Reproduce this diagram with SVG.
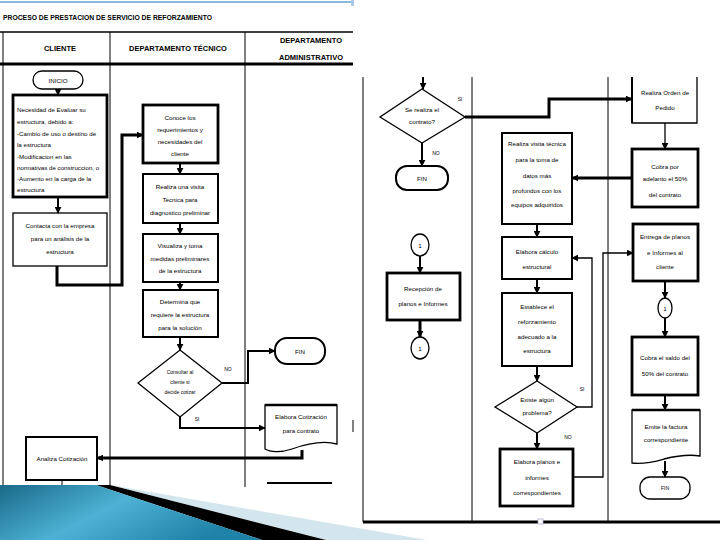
<svg xmlns="http://www.w3.org/2000/svg" width="720" height="540" viewBox="0 0 720 540">
<defs>
<marker id="ah" viewBox="0 0 10 10" refX="9" refY="5" markerWidth="7" markerHeight="7" markerUnits="userSpaceOnUse" orient="auto"><path d="M0,0 L10,5 L0,10 z" fill="#000"/></marker>
<linearGradient id="bl" x1="0" y1="0" x2="1" y2="0.4"><stop offset="0" stop-color="#1a6a88"/><stop offset="0.5" stop-color="#4db2d5"/><stop offset="1" stop-color="#1f82a8"/></linearGradient>
<style>
.t{font-family:"Liberation Sans",Arial,sans-serif;font-size:6.2px;fill:#000;text-anchor:middle}
.h{font-family:"Liberation Sans",Arial,sans-serif;font-size:7.5px;font-weight:bold;fill:#000;text-anchor:middle}
.l{text-anchor:start}
.s{font-size:5px}
.b{fill:#fff;stroke:#000;stroke-width:2}
.bt{fill:#fff;stroke:#000;stroke-width:2.8}
.bn{fill:#fff;stroke:#000;stroke-width:1.3}
.c{fill:none;stroke:#000;stroke-width:2}
.ct{fill:none;stroke:#000;stroke-width:3}
.cn{fill:none;stroke:#000;stroke-width:1.3}
.g{fill:none;stroke:#000;stroke-width:1}
</style>
</defs>
<rect width="720" height="540" fill="#fff"/>

<g id="frame-left">
<line x1="0" y1="2" x2="353" y2="2" stroke="#8db8dc" stroke-width="2"/>
<rect x="351" y="0" width="3" height="6" fill="#a9c9e6"/>
<text class="h l" x="3" y="20" textLength="209" lengthAdjust="spacingAndGlyphs">PROCESO DE PRESTACION DE SERVICIO DE REFORZAMIENTO</text>
<line x1="0" y1="32" x2="353" y2="32" stroke="#000" stroke-width="1.5"/>
<line x1="0" y1="64" x2="353" y2="64" stroke="#000" stroke-width="3"/>
<line x1="3" y1="32" x2="3" y2="487" class="g"/>
<line x1="110" y1="32" x2="110" y2="487" class="g"/>
<line x1="245" y1="32" x2="245" y2="487" class="g"/>
<text class="h" x="60" y="51">CLIENTE</text>
<text class="h" x="178" y="51">DEPARTAMENTO TÉCNICO</text>
<text class="h" x="311" y="43">DEPARTAMENTO</text>
<text class="h" x="311" y="60">ADMINISTRATIVO</text>
<line x1="353" y1="420" x2="353" y2="432" stroke="#000" stroke-width="1"/>
</g>

<g id="inicio"><rect x="33" y="71" width="50" height="18" rx="9" class="bn"/><text class="t" x="58" y="82.5">INICIO</text></g>
<g id="necesidad"><rect x="13" y="95" width="94" height="102" class="bt"/>
<text class="t l" x="17" y="112">Necesidad de Evaluar su</text>
<text class="t l" x="17" y="124">estructura, debido  a:</text>
<text class="t l" x="17" y="136">-Cambio de uso o destino de</text>
<text class="t l" x="17" y="147">la estructura</text>
<text class="t l" x="17" y="159">-Modificacion en las</text>
<text class="t l" x="17" y="170">normativas de construccion, o</text>
<text class="t l" x="17" y="181">-Aumento en la carga de la</text>
<text class="t l" x="17" y="192">estructura</text></g>
<g id="contacta"><rect x="13" y="213" width="94" height="53" class="bn"/>
<text class="t" x="60" y="228">Contacta con  la empresa</text>
<text class="t" x="60" y="241">para un análisis de la</text>
<text class="t" x="60" y="254">estructura</text></g>
<g id="conoce"><rect x="143" y="105" width="75" height="58" class="bt"/>
<text class="t" x="180" y="120">Conoce los</text>
<text class="t" x="180" y="132">requerimientos y</text>
<text class="t" x="180" y="144">necesidades del</text>
<text class="t" x="180" y="156">cliente</text></g>
<g id="realiza"><rect x="143" y="174" width="75" height="49" class="b"/>
<text class="t" x="180" y="189">Realiza una visita</text>
<text class="t" x="180" y="202">Tecnica para</text>
<text class="t" x="180" y="215">diagnostico preliminar</text></g>
<g id="visualiza"><rect x="143" y="234" width="75" height="48" class="b"/>
<text class="t" x="180" y="248">Visualiza y toma</text>
<text class="t" x="180" y="261">medidas preliminares</text>
<text class="t" x="180" y="273">de la estructura</text></g>
<g id="determina"><rect x="143" y="290" width="75" height="47" class="b"/>
<text class="t" x="180" y="304">Determina que</text>
<text class="t" x="180" y="317">requiere la estructura</text>
<text class="t" x="180" y="330">para la solución</text></g>
<g id="consultar"><polygon points="180,350 222,383 180,417 138,383" class="bn"/>
<text class="t s" x="180" y="374">Consultar al</text>
<text class="t s" x="180" y="384">cliente si</text>
<text class="t s" x="180" y="394">decide cotizar</text></g>
<g id="fin1"><rect x="275" y="338" width="50" height="26" rx="12" class="b"/><text class="t" x="300" y="353.5">FIN</text></g>
<g id="cotizacion"><path d="M265,405 H337 V444 C322,440 306,444 292,449 C280,453 270,452 265,449 Z" class="bn"/><line x1="265" y1="405" x2="337" y2="405" stroke="#000" stroke-width="2.5"/>
<text class="t" x="301" y="419">Elabora Cotización</text>
<text class="t" x="301" y="433">para contrato</text></g>
<g id="analiza"><rect x="26" y="437" width="71" height="43" class="b"/><text class="t" x="62" y="461">Analiza Cotización</text></g>

<g id="frame-right">
<line x1="363" y1="77" x2="363" y2="522" class="g"/>
<line x1="472" y1="77" x2="472" y2="522" class="g"/>
<line x1="608" y1="77" x2="608" y2="522" class="g"/>
<line x1="363" y1="522" x2="720" y2="522" stroke="#000" stroke-width="3"/>
<rect x="538" y="519" width="5" height="5" fill="#fff" stroke="#aac" stroke-width="0.8"/>
</g>

<g id="se-realiza"><polygon points="422,89 465,117 422,143 380,117" class="bn"/>
<text class="t" x="422" y="112">Se realiza el</text>
<text class="t" x="422" y="124">contrato?</text></g>
<g id="fin2"><rect x="396" y="166" width="52" height="24" rx="11" class="b"/><text class="t" x="422" y="180.5">FIN</text></g>
<g id="c1a"><ellipse cx="420" cy="245" rx="9" ry="11" class="bn"/><text class="t" x="420" y="248" font-size="9">1</text></g>
<g id="recepcion"><rect x="387" y="273" width="73" height="47" class="bt"/>
<text class="t" x="423" y="291">Recepción de</text>
<text class="t" x="423" y="306">planos e Informes</text></g>
<g id="c1b"><ellipse cx="420" cy="348" rx="9" ry="11" class="bn"/><text class="t" x="420" y="351" font-size="9">1</text></g>
<g id="visita"><rect x="502" y="133" width="70" height="91" class="b"/>
<text class="t" x="537" y="146">Realiza visita técnica</text>
<text class="t" x="537" y="162">para la toma de</text>
<text class="t" x="537" y="178">datos más</text>
<text class="t" x="537" y="193">profundos con los</text>
<text class="t" x="537" y="207">equipos adquiridos</text></g>
<g id="calculo"><rect x="502" y="237" width="70" height="42" class="b"/>
<text class="t" x="537" y="254">Elabora cálculo</text>
<text class="t" x="537" y="269">estructural</text></g>
<g id="establece"><rect x="502" y="293" width="70" height="73" class="b"/>
<text class="t" x="537" y="309">Establece el</text>
<text class="t" x="537" y="324">reforzamiento</text>
<text class="t" x="537" y="339">adecuado a la</text>
<text class="t" x="537" y="353">estructura</text></g>
<g id="problema"><polygon points="537,381 577,407 537,433 495,407" class="bn"/>
<text class="t" x="537" y="402">Existe algún</text>
<text class="t" x="537" y="415">problema?</text></g>
<g id="planos"><rect x="500" y="449" width="73" height="57" class="bt"/>
<text class="t" x="537" y="464">Elabora planos e</text>
<text class="t" x="537" y="480">informes</text>
<text class="t" x="537" y="495">correspondientes</text></g>
<g id="orden"><path d="M632,77 V123 H697 V77" class="bn"/><line x1="632" y1="77" x2="632" y2="123" stroke="#000" stroke-width="2"/>
<text class="t" x="665" y="95">Realiza Orden de</text>
<text class="t" x="665" y="110">Pedido</text></g>
<g id="cobra-adelanto"><rect x="632" y="149" width="66" height="58" class="bt"/>
<text class="t" x="665" y="169">Cobra por</text>
<text class="t" x="665" y="181">adelanto el 50%</text>
<text class="t" x="665" y="197">del contrato</text></g>
<g id="entrega"><rect x="633" y="224" width="65" height="57" class="bt"/>
<text class="t" x="665" y="239">Entrega de planos</text>
<text class="t" x="665" y="255">e Informes al</text>
<text class="t" x="665" y="269">cliente</text></g>
<g id="c1c"><ellipse cx="665" cy="308" rx="7" ry="10" class="bn"/><text class="t" x="665" y="311" font-size="8">1</text></g>
<g id="cobra-saldo"><rect x="632" y="337" width="66" height="58" class="bt"/>
<text class="t" x="665" y="360">Cobra el saldo del</text>
<text class="t" x="665" y="376">50% del contrato</text></g>
<g id="factura"><path d="M632,410 H700 V456 C688,454 676,456 664,459 C650,463 640,464 632,463 Z" class="bn"/><line x1="632" y1="410" x2="700" y2="410" stroke="#000" stroke-width="2.5"/>
<text class="t" x="666" y="429">Emite la factura</text>
<text class="t" x="666" y="442">correspondiente</text></g>
<g id="fin3"><rect x="640" y="477" width="50" height="22" rx="10" class="bn"/><text class="t s" x="665" y="490">FIN</text></g>

<g id="connectors">
<path d="M58,89 V95" class="c" marker-end="url(#ah)"/>
<path d="M58,197 V213" class="c" marker-end="url(#ah)"/>
<path d="M57,266 V285 H122 V135 H143" class="ct" marker-end="url(#ah)"/>
<path d="M180,163 V174" class="c" marker-end="url(#ah)"/>
<path d="M180,223 V234" class="c" marker-end="url(#ah)"/>
<path d="M180,282 V290" class="c" marker-end="url(#ah)"/>
<path d="M180,337 V350" class="c" marker-end="url(#ah)"/>
<path d="M222,383 H248 V351 H275" class="c" marker-end="url(#ah)"/>
<path d="M180,417 V428 H265" class="c" marker-end="url(#ah)"/>
<path d="M302,450 V458 H97" class="ct" marker-end="url(#ah)"/>
<path d="M62,480 V487" class="g"/>
<path d="M267,483 H332" class="c"/>
<text class="t s" x="228" y="371">NO</text>
<text class="t s" x="197" y="421">SI</text>
<path d="M423,77 V89" class="c" marker-end="url(#ah)"/>
<path d="M465,117 H549 V99 H632" class="ct" marker-end="url(#ah)"/>
<path d="M422,143 V166" class="c" marker-end="url(#ah)"/>
<path d="M420,256 V273" class="c" marker-end="url(#ah)"/>
<path d="M420,320 V337" class="ct" marker-end="url(#ah)"/>
<path d="M632,178 H572" class="ct" marker-end="url(#ah)"/>
<path d="M537,224 V237" class="c" marker-end="url(#ah)"/>
<path d="M537,279 V293" class="c" marker-end="url(#ah)"/>
<path d="M537,366 V381" class="c" marker-end="url(#ah)"/>
<path d="M577,407 H592 V258 H572" class="cn" marker-end="url(#ah)"/>
<path d="M537,433 V449" class="c" marker-end="url(#ah)"/>
<path d="M573,477 H603 V253 H633" class="cn" marker-end="url(#ah)"/>
<path d="M665,123 V149" class="cn" marker-end="url(#ah)"/>
<path d="M665,281 V298" class="c" marker-end="url(#ah)"/>
<path d="M665,318 V337" class="c" marker-end="url(#ah)"/>
<path d="M665,395 V410" class="c" marker-end="url(#ah)"/>
<path d="M665,461 V477" class="c" marker-end="url(#ah)"/>
<text class="t s" x="460" y="101">SI</text>
<text class="t s" x="436" y="155">NO</text>
<text class="t s" x="582" y="391">SI</text>
<text class="t s" x="568" y="439">NO</text>
</g>

<g id="decoration">
<polygon points="110,485 427,540 326,540" fill="#d3e6ee"/>
<polygon points="96,485 110,485 326,540 262,540" fill="#000"/>
<polygon points="0,485 96,485 262,540 0,540" fill="url(#bl)"/>
</g>
</svg>
